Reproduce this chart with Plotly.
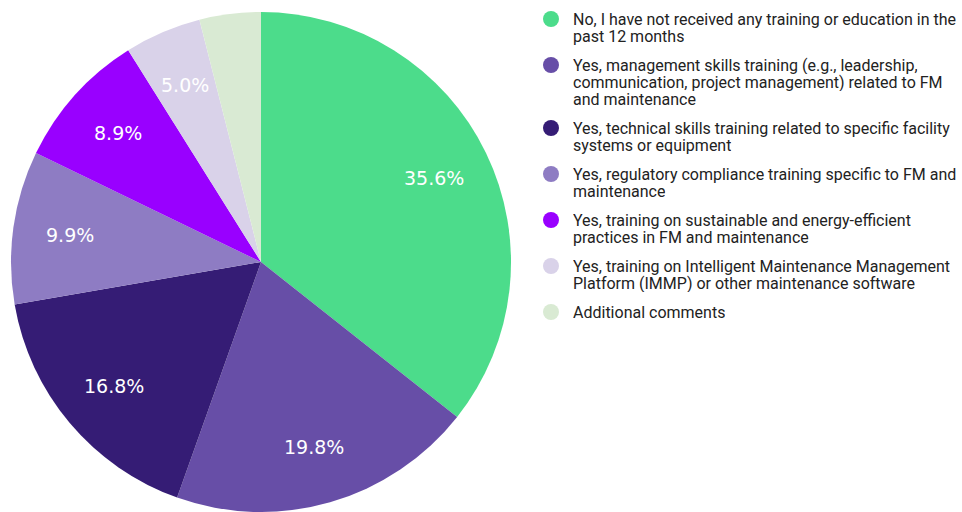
import math
import plotly.graph_objects as go

# Survey responses: training received in the past 12 months
labels = [
    "No, I have not received any training or education in the<br>past 12 months",
    "Yes, management skills training (e.g., leadership,<br>communication, project management) related to FM<br>and maintenance",
    "Yes, technical skills training related to specific facility<br>systems or equipment",
    "Yes, regulatory compliance training specific to FM and<br>maintenance",
    "Yes, training on sustainable and energy-efficient<br>practices in FM and maintenance",
    "Yes, training on Intelligent Maintenance Management<br>Platform (IMMP) or other maintenance software",
    "Additional comments",
]
counts = [36, 20, 17, 10, 9, 5, 4]
colors = ["#4cdc8b", "#674ea7", "#351c75", "#8e7cc3", "#9900ff", "#d9d2e9", "#d9ead3"]
show_label = [True, True, True, True, True, True, False]

W, H = 962, 512
pie_x = [10 / W, 512 / W]
pie_y = [0, 500 / H]

fig = go.Figure()
fig.add_trace(go.Pie(
    labels=labels,
    values=counts,
    sort=False,
    direction="clockwise",
    rotation=0,
    marker=dict(colors=colors, line=dict(width=0)),
    textinfo="none",
    showlegend=False,
    domain=dict(x=pie_x, y=pie_y),
    hoverinfo="label+percent",
))

# Percentage labels placed along each slice's mid-angle
cx = (pie_x[0] + pie_x[1]) / 2 * W
cy = H - (pie_y[0] + pie_y[1]) / 2 * H
radius = min((pie_x[1] - pie_x[0]) * W, (pie_y[1] - pie_y[0]) * H) / 2
label_r = 0.77 * radius
total = sum(counts)
cum = 0
for c, show in zip(counts, show_label):
    mid = (cum + c / 2) / total * 2 * math.pi
    cum += c
    if not show:
        continue
    fig.add_annotation(
        x=cx + label_r * math.sin(mid), y=cy - label_r * math.cos(mid),
        xref="x", yref="y", text=f"{100 * c / total:.1f}%", showarrow=False,
        xanchor="center", yanchor="middle",
        font=dict(family="DejaVu Sans", size=19, color="white"),
    )

# Legend: round swatches and wrapped item text
line_h = 17
item_gap = 12
leg_top = 19
sw_x = 551
txt_x = 572
sw_x_list, sw_y_list = [], []
y = leg_top
for lab in labels:
    lines = lab.split("<br>")
    sw_x_list.append(sw_x)
    sw_y_list.append(y)
    for ln in lines:
        fig.add_annotation(
            x=txt_x, y=y, xref="x", yref="y", text=ln, showarrow=False,
            xanchor="left", yanchor="middle", height=line_h, borderpad=0,
            font=dict(family="Roboto", size=16, color="#222222"),
        )
        y += line_h
    y += item_gap

fig.add_trace(go.Scatter(
    x=sw_x_list, y=sw_y_list, mode="markers",
    marker=dict(symbol="circle", size=16, color=colors),
    showlegend=False, hoverinfo="skip",
))

fig.update_layout(
    width=W, height=H,
    margin=dict(l=0, r=0, t=0, b=0),
    paper_bgcolor="white", plot_bgcolor="rgba(0,0,0,0)",
    xaxis=dict(visible=False, range=[0, W], domain=[0, 1], fixedrange=True),
    yaxis=dict(visible=False, range=[H, 0], domain=[0, 1], fixedrange=True),
    showlegend=False,
)

fig.write_html("out.html")
